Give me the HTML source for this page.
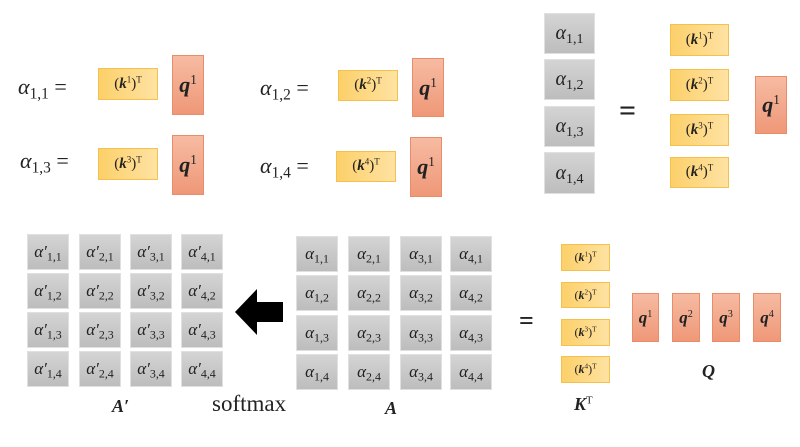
<!DOCTYPE html>
<html><head><meta charset="utf-8"><style>
body{margin:0;width:800px;height:447px;background:#fff;position:relative;overflow:hidden;font-family:"Liberation Serif",serif;color:#222}
.a{position:absolute}
.y{position:absolute;background:linear-gradient(90deg,#fcd06a,#ffe2a2);border:1px solid #f5c14e;box-sizing:border-box;display:flex;align-items:center;justify-content:center;font-size:15px}
.r{position:absolute;background:linear-gradient(180deg,#f6bba2,#ef9878);border:1px solid #e98c6a;box-sizing:border-box;display:flex;align-items:center;justify-content:center;font-size:22px;font-weight:bold;font-style:italic}
.g{position:absolute;background:linear-gradient(180deg,#d4d4d4,#bdbdbd);border:1px solid #e0e0e0;box-sizing:border-box;display:flex;align-items:center;justify-content:center;font-size:17px;font-style:italic}
.eq{position:absolute;font-size:24px}
.t{position:absolute;font-size:22px;font-style:italic}
sub{font-style:normal;font-size:0.7em;vertical-align:-0.3em;line-height:0}
sup{font-size:0.6em;font-style:normal;font-weight:normal;vertical-align:0.6em;line-height:0}
.k{font-weight:bold}
</style></head><body>
<div class="t" style="left:18px;top:74px">α<sub>1,1</sub> <span style="font-style:normal">=</span></div>
<div class="y" style="left:98px;top:68px;width:60px;height:32px"><span>(<i class="k">k</i><sup>1</sup>)<sup>T</sup></span></div>
<div class="r" style="left:172px;top:55px;width:32px;height:60px"><span>q<sup>1</sup></span></div>
<div class="t" style="left:20px;top:148px">α<sub>1,3</sub> <span style="font-style:normal">=</span></div>
<div class="y" style="left:98px;top:148px;width:60px;height:32px"><span>(<i class="k">k</i><sup>3</sup>)<sup>T</sup></span></div>
<div class="r" style="left:172px;top:135px;width:32px;height:60px"><span>q<sup>1</sup></span></div>
<div class="t" style="left:260px;top:75px">α<sub>1,2</sub> <span style="font-style:normal">=</span></div>
<div class="y" style="left:338px;top:70px;width:60px;height:31px"><span>(<i class="k">k</i><sup>2</sup>)<sup>T</sup></span></div>
<div class="r" style="left:412px;top:58px;width:32px;height:59px"><span>q<sup>1</sup></span></div>
<div class="t" style="left:260px;top:153px">α<sub>1,4</sub> <span style="font-style:normal">=</span></div>
<div class="y" style="left:336px;top:151px;width:60px;height:31px"><span>(<i class="k">k</i><sup>4</sup>)<sup>T</sup></span></div>
<div class="r" style="left:410px;top:137px;width:32px;height:60px"><span>q<sup>1</sup></span></div>

<div class="g" style="left:544px;top:13px;width:51px;height:41px;font-size:20px"><span>α<sub>1,1</sub></span></div>
<div class="g" style="left:544px;top:59px;width:51px;height:41px;font-size:20px"><span>α<sub>1,2</sub></span></div>
<div class="g" style="left:544px;top:106px;width:51px;height:41px;font-size:20px"><span>α<sub>1,3</sub></span></div>
<div class="g" style="left:544px;top:152px;width:51px;height:42px;font-size:20px"><span>α<sub>1,4</sub></span></div>
<div class="eq" style="left:619px;top:94px;font-size:30px;font-weight:bold">=</div>
<div class="y" style="left:670px;top:24px;width:59px;height:32px"><span>(<i class="k">k</i><sup>1</sup>)<sup>T</sup></span></div>
<div class="y" style="left:670px;top:69px;width:59px;height:32px"><span>(<i class="k">k</i><sup>2</sup>)<sup>T</sup></span></div>
<div class="y" style="left:670px;top:114px;width:59px;height:32px"><span>(<i class="k">k</i><sup>3</sup>)<sup>T</sup></span></div>
<div class="y" style="left:670px;top:157px;width:59px;height:31px"><span>(<i class="k">k</i><sup>4</sup>)<sup>T</sup></span></div>
<div class="r" style="left:755px;top:76px;width:32px;height:58px"><span>q<sup>1</sup></span></div>

<div id="ap"></div>
<div id="am"></div>
<div class="t" style="left:112px;top:396px;font-weight:bold;font-size:18px">A′</div>
<div class="a" style="left:212px;top:391px;font-size:23px">softmax</div>
<svg class="a" style="left:235px;top:289px" width="50" height="46"><polygon points="0,23 22,0 22,13 48,13 48,33 22,33 22,46" fill="#000"/></svg>
<div class="t" style="left:385px;top:398px;font-weight:bold;font-size:18px">A</div>
<div class="eq" style="left:519px;top:306px;font-size:26px;font-weight:bold">=</div>
<div class="y" style="left:561px;top:244px;width:49px;height:27px;font-size:12px"><span>(<i class="k">k</i><sup>1</sup>)<sup>T</sup></span></div>
<div class="y" style="left:561px;top:282px;width:49px;height:26px;font-size:12px"><span>(<i class="k">k</i><sup>2</sup>)<sup>T</sup></span></div>
<div class="y" style="left:561px;top:319px;width:49px;height:27px;font-size:12px"><span>(<i class="k">k</i><sup>3</sup>)<sup>T</sup></span></div>
<div class="y" style="left:561px;top:356px;width:49px;height:27px;font-size:12px"><span>(<i class="k">k</i><sup>4</sup>)<sup>T</sup></span></div>
<div class="t" style="left:574px;top:394px;font-weight:bold;font-size:18px">K<sup style="font-style:normal">T</sup></div>
<div class="r" style="left:632px;top:293px;width:27px;height:49px;font-size:17px"><span>q<sup>1</sup></span></div>
<div class="r" style="left:672px;top:293px;width:28px;height:49px;font-size:17px"><span>q<sup>2</sup></span></div>
<div class="r" style="left:712px;top:293px;width:28px;height:49px;font-size:17px"><span>q<sup>3</sup></span></div>
<div class="r" style="left:753px;top:293px;width:28px;height:49px;font-size:17px"><span>q<sup>4</sup></span></div>
<div class="t" style="left:702px;top:361px;font-weight:bold;font-size:18px">Q</div>
<script>
const apCols=[27,79,130,181], apRows=[234,273,312,351];
const amCols=[296,348,400,450], amRows=[236,275,315,354];
function grid(id,cols,rows,prime,name){
  const host=document.getElementById(id);
  cols.forEach((x,i)=>rows.forEach((y,j)=>{
    const d=document.createElement('div');
    d.className='g';
    
    
    d.style.cssText=`left:${x}px;top:${y}px;width:42px;height:36px`;
    d.innerHTML='<span>α'+(prime?'′':'')+'<sub>'+(i+1)+','+(j+1)+'</sub></span>';
    host.appendChild(d);
  }));
}
grid('ap',apCols,apRows,true,'a-prime-cell');
grid('am',amCols,amRows,false,'a-cell');
</script>
</body></html>
